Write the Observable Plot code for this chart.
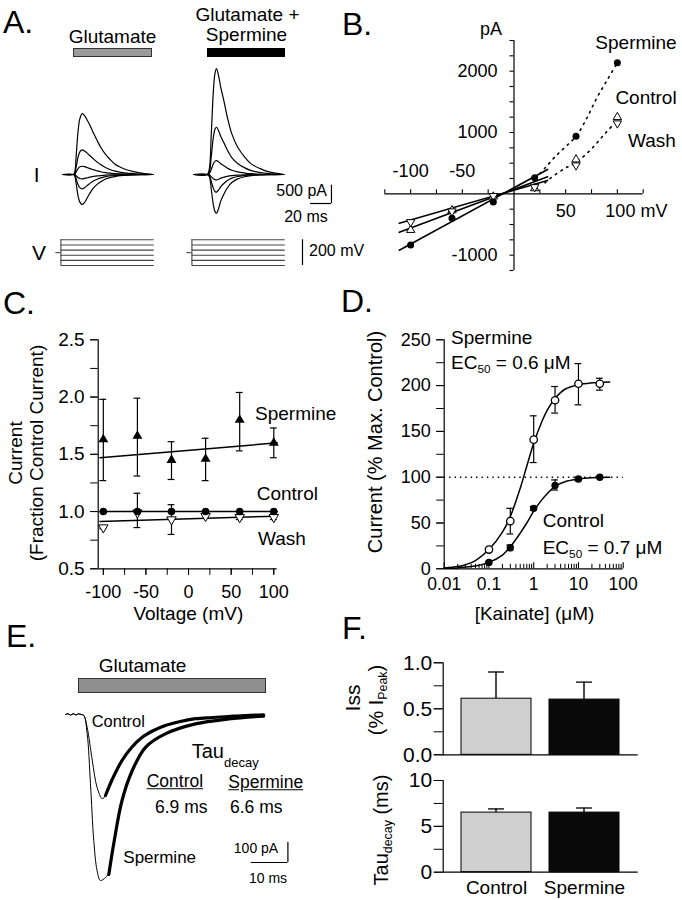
<!DOCTYPE html>
<html><head><meta charset="utf-8">
<script src="https://cdn.jsdelivr.net/npm/d3@7"></script>
<script src="https://cdn.jsdelivr.net/npm/@observablehq/plot@0.6"></script>
<style>
body{margin:0;background:#fff;}
#fig{position:relative;width:682px;height:900px;background:#fff;overflow:hidden;font-family:"Liberation Sans",Arial,Helvetica,sans-serif;color:#000;}
.lbl{position:absolute;white-space:nowrap;line-height:1;}
.lbl sub{font-size:0.62em;vertical-align:-0.35em;line-height:0;}
.box{position:absolute;box-sizing:border-box;}
</style></head><body><div id="fig"></div>
<script>
// ================= DATA =================
// Panel A: whole-cell currents (pA) vs time (ms) at -100..+100 mV
const aVSteps = [-100, -60, -20, 20, 60, 100];
const aVHold = 0;
const aGluTime = [0,10,11.5,13,14.6,16.5,18.8,21,24,27,29.8,33,36.2,41,45.7,50,55.2,61,67.6,75,86];
const aGluP100 = [0,0,50,500,1110,1520,1660,1610,1460,1290,1110,930,750,550,400,280,200,130,80,40,0];
const aGluP60  = [0,0,20,200,450,620,670,640,570,490,420,340,270,190,130,90,60,40,25,10,0];
const aGluP20  = [0,0,7,70,150,210,225,215,185,155,125,100,75,50,35,22,15,10,5,2,0];
const aGluM20  = [0,0,-4,-35,-80,-108,-117,-108,-88,-67,-52,-39,-29,-18,-12,-8,-5,-2,-1,0,0];
const aGluM60  = [0,0,-12,-117,-261,-359,-390,-363,-293,-222,-172,-129,-98,-59,-39,-27,-16,-8,-4,-2,0];
const aGluM100 = [0,0,-25,-246,-549,-753,-819,-762,-614,-467,-360,-270,-205,-123,-82,-57,-33,-16,-8,-4,0];
const aSpmTime = [0,13,15,17,19,20.5,21.9,24,26,28.9,32,36.5,42,48.9,55,63.5,72,86];
const aSpmP100 = [0,0,140,1150,2310,2770,2890,2680,2370,2020,1590,1110,750,470,290,160,70,0];
const aSpmP60  = [0,0,65,520,1030,1240,1290,1190,1040,870,680,460,300,180,105,55,25,0];
const aSpmP20  = [0,0,19,150,300,365,380,345,295,240,180,115,70,40,22,10,5,0];
const aSpmM20  = [0,0,-7,-58,-117,-140,-146,-128,-100,-75,-52,-30,-16,-8,-4,-2,0,0];
const aSpmM60  = [0,0,-24,-193,-386,-464,-483,-420,-330,-245,-170,-100,-55,-28,-14,-6,-2,0];
const aSpmM100 = [0,0,-53,-422,-845,-1014,-1056,-920,-720,-540,-375,-220,-120,-60,-30,-12,-5,0];

// Panel B: I-V (pA vs mV)
const bVolt = [-100, -60, -20, 20, 60, 100];
const bSpermine = [-836, -397, -132, 264, 937, 2139];
const bControl = [-590, -270, -45, 90, 560, 1250];
const bWash = [-460, -285, -35, 110, 465, 1150];
const bFitVolt = [-111, 32.5];
const bFitSpermine = [-919, 398];
const bFitControl = [-628, 278];
const bFitWash = [-479, 219];
const bDotVoltSpm = [25, 30, 40, 50, 60, 70, 80, 90, 100];
const bDotSpermine = [330, 420, 610, 770, 937, 1220, 1560, 1850, 2139];
const bDotVoltCtl = [30, 34, 48, 60, 75, 88, 100];
const bDotControl = [180, 238, 403, 512, 733, 981, 1200];
const bXTicks = [-125, -100, -75, -50, -25, 25, 50, 75, 100, 125];
const bYTicks = [-1250, -1000, -750, -500, -250, 250, 500, 750, 1000, 1250, 1500, 1750, 2000, 2250, 2500];
const bXLabelsAbove = [-100, -50];
const bYLabels = [2000, 1000, -1000];

// Panel C: fraction of control current vs voltage
const cVolt = [-100, -60, -20, 20, 60, 100];
const cSpermine   = [1.63, 1.66, 1.45, 1.46, 1.80, 1.60];
const cSpermineHi = [1.98, 1.99, 1.61, 1.64, 2.04, 1.73];
const cSpermineLo = [1.27, 1.31, 1.28, 1.27, 1.53, 1.47];
const cControl = [1.0, 1.0, 1.0, 1.0, 1.0, 1.0];
const cWash   = [0.86, 0.99, 0.93, 0.96, 0.95, 0.95];
const cWashHi = [0.87, 1.16, 1.06, 0.98, 0.97, 0.97];
const cWashLo = [0.85, 0.86, 0.80, 0.94, 0.93, 0.93];
const cFitVolt = [-104, 104];
const cFitSpermine = [1.47, 1.60];
const cFitControl = [1.0, 1.0];
const cFitWash = [0.913, 0.96];
const cYTicks = [0.5, 0.75, 1.0, 1.25, 1.5, 1.75, 2.0, 2.25, 2.5];
const cYLabels = [0.5, 1.0, 1.5, 2.0, 2.5];
const cXTicks = [-100, -75, -50, -25, 0, 25, 50, 75, 100];
const cXLabels = [-100, -50, 0, 50, 100];

// Panel D: kainate dose-response
const dConc = [0.1, 0.3, 1, 3, 10, 30];
const dSpermine   = [21, 52, 141, 184, 202, 202];
const dSpermineHi = [23, 66, 167, 199, 224, 208];
const dSpermineLo = [19, 38, 116, 170, 179, 195];
const dControl   = [7, 23, 66, 91, 98, 100];
const dControlHi = [8, 26, 68, 97, 100, 101];
const dControlLo = [6, 20, 64, 86, 96, 99];
const dFitConc = [0.01, 0.02, 0.03, 0.05, 0.1, 0.2, 0.3, 0.5, 0.7, 1, 1.5, 2, 3, 5, 10, 20, 50];
const dFitSpermine = [1, 2.5, 4.5, 9, 21, 40, 57, 88, 112, 137, 160, 173, 186, 196, 201, 203, 204];
const dFitControl = [0.5, 1, 2, 3, 7, 15, 24, 39, 50, 63, 75, 82, 90, 95, 98, 99.5, 100];
const dRef = 100;
const dYTicks = [0, 25, 50, 75, 100, 125, 150, 175, 200, 225, 250];
const dYLabels = [0, 50, 100, 150, 200, 250];
const dXMajor = [0.01, 0.1, 1, 10, 100];
const dXMinor = [0.02,0.03,0.04,0.05,0.06,0.07,0.08,0.09,0.2,0.3,0.4,0.5,0.6,0.7,0.8,0.9,2,3,4,5,6,7,8,9,20,30,40,50,60,70,80,90];

// Panel E: example currents (pA vs ms)
const eRawTime = [0,0.7,1.4,2.1,2.8,3.5,4.3,5,5.9,7.3,8.6,10,10.9,12,13.5,15.4,18,20.9,24,27.2,31,35.4,40,44.4,49,54];
const eRawControl = [0,4,-3,4,-2,3,0,-5,-64,-230,-364,-421,-405,-350,-290,-230,-160,-114,-80,-55,-36,-21,-15,-10,-5,-2];
const eRawTimeSpm = [0,0.7,1.4,2.1,2.8,3.5,4.3,5,5.9,6.8,7.7,8.6,9.5,10.9,11.8,13.2,15.4,18.2,21.8,27.2,35.4,44.5,54];
const eRawSpermine = [0,4,-3,4,-2,3,0,-5,-95,-345,-630,-780,-830,-815,-790,-640,-430,-280,-164,-97,-47,-22,-8];
const eFitTimeCtl = [10.9,12,13.5,15.4,18,20.9,24,27.2,31,35.4,40,44.4,49,54];
const eFitControl = [-405,-355,-295,-230,-165,-114,-80,-55,-36,-21,-15,-10,-5,-2];
const eFitTimeSpm = [11.8,13.2,15.4,18.2,21.8,27.2,35.4,44.5,54];
const eFitSpermine = [-800,-640,-430,-280,-164,-97,-47,-22,-8];

// Panel F: bar summaries
const fGroups = ["Control", "Spermine"];
const fIss = [0.61, 0.60];
const fIssHi = [0.90, 0.79];
const fTau = [6.5, 6.5];
const fTauHi = [6.9, 7.0];
const fIssTicks = [0, 0.25, 0.5, 0.75, 1.0];
const fIssLabels = [0, 0.5, 1.0];
const fTauTicks = [0, 2.5, 5, 7.5, 10];
const fTauLabels = [0, 5, 10];

// ================= LAYOUT HELPERS =================
const fig = document.getElementById("fig");
const FONT = '"Liberation Sans", Arial, Helvetica, sans-serif';
const baseStyle = {background: "transparent", overflow: "visible", fontFamily: FONT, color: "#000"};
function place(el, left, top) {
  el.style.position = "absolute"; el.style.left = left + "px"; el.style.top = top + "px";
  fig.appendChild(el);
}
function txt(html, x, y, size, anchor = "middle", extra = {}) {
  const d = document.createElement("div");
  d.className = "lbl"; d.innerHTML = html;
  d.style.fontSize = size + "px"; d.style.left = x + "px"; d.style.top = y + "px";
  const tx = anchor === "start" ? "0" : anchor === "end" ? "-100%" : "-50%";
  d.style.transform = `translate(${tx},-50%)`;
  Object.assign(d.style, extra);
  fig.appendChild(d); return d;
}
function rot(html, x, y, size) {
  const d = txt(html, x, y, size);
  d.style.transform = "translate(-50%,-50%) rotate(-90deg)";
  return d;
}
function box(left, top, w, h, fill, border) {
  const d = document.createElement("div");
  d.className = "box";
  Object.assign(d.style, {left: left + "px", top: top + "px", width: w + "px", height: h + "px", background: fill, border: border});
  fig.appendChild(d);
}
function zipLine(xs, ys, k) { return xs.map((x, i) => ({x, y: ys[i], k})); }

// ================= PANEL A =================
const aPxPerMs = 1.05, aPxPerPA = 1 / 27.3, aPxPerMV = 5.15 / 40;
function sweepI(times, traces, widthPx, extras = []) {
  const rows = traces.flatMap((tr, k) => zipLine(times, tr, k));
  return Plot.plot({
    width: widthPx, height: 160, margin: 0,
    x: {domain: [0, widthPx / aPxPerMs], axis: null},
    y: {domain: [-42 / aPxPerPA, 118 / aPxPerPA], axis: null},
    style: baseStyle,
    marks: [Plot.line(rows, {x: "x", y: "y", z: "k", stroke: "#000", strokeWidth: 1.2, curve: "catmull-rom"}), ...extras]
  });
}
place(sweepI(aGluTime, [aGluP100, aGluP60, aGluP20, aGluM20, aGluM60, aGluM100], 92), 62, 56);
const aBarT = 131.4, aBarI = -792;
place(sweepI(aSpmTime, [aSpmP100, aSpmP60, aSpmP20, aSpmM20, aSpmM60, aSpmM100], 150, [
  Plot.ruleX([aBarT], {y1: aBarI, y2: aBarI + 500, stroke: "#000", strokeWidth: 1.2}),
  Plot.ruleY([aBarI], {x1: aBarT - 20, x2: aBarT, stroke: "#000", strokeWidth: 1.2})
]), 193, 56);

const aVStart = -1.5, aVEnd = 86.5, aVHoldStart = -6.3;
function sweepV(widthPx, extras = []) {
  const rows = aVSteps.flatMap(v => [{t: aVStart, v, k: v}, {t: aVEnd, v, k: v}]);
  return Plot.plot({
    width: widthPx, height: 45, margin: 0,
    x: {domain: [-7 / aPxPerMs, (widthPx - 7) / aPxPerMs], axis: null},
    y: {domain: [-(275 - 252.15) / aPxPerMV, (252.15 - 230) / aPxPerMV], axis: null},
    style: baseStyle,
    marks: [
      Plot.line(rows, {x: "t", y: "v", z: "k", stroke: "#444", strokeWidth: 1.1}),
      Plot.ruleX([aVStart], {y1: d3.min(aVSteps), y2: d3.max(aVSteps), stroke: "#444", strokeWidth: 1.1}),
      Plot.ruleY([aVHold], {x1: aVHoldStart, x2: aVStart, stroke: "#444", strokeWidth: 1.1}),
      ...extras
    ]
  });
}
place(sweepV(100), 55, 230);
place(sweepV(125, [Plot.ruleX([103.8], {y1: -100, y2: 100, stroke: "#000", strokeWidth: 1.2})]), 186, 230);

box(72.7, 48.3, 79.6, 9.2, "#9c9c9c", "1px solid #333");
box(206.7, 47.7, 78.3, 9.8, "#000", "none");
txt("Glutamate", 112.5, 36, 19);
txt("Glutamate +", 247.5, 13.5, 19);
txt("Spermine", 246.5, 34, 19);
txt("I", 36.7, 174, 21);
txt("V", 39, 252, 21);
txt("500 pA", 327, 191, 16, "end");
txt("20 ms", 306, 217, 16);
txt("200 mV", 309, 251, 16, "start");

// ================= PANEL B =================
const bRows = bVolt.map((v, i) => ({v, sp: bSpermine[i], ctl: bControl[i], wa: bWash[i]}));
place(Plot.plot({
  width: 341, height: 300, marginLeft: 43.3, marginRight: 39.3, marginTop: 40, marginBottom: 30,
  x: {domain: [-125, 125], axis: null}, y: {domain: [-1250, 2500], axis: null},
  style: baseStyle,
  marks: [
    Plot.ruleY([0], {strokeWidth: 1.2}),
    Plot.ruleX([0], {strokeWidth: 1.2}),
    Plot.ruleX(bXTicks, {x: d => d, y1: 0, y2: 0, insetTop: -4, strokeWidth: 1.1}),
    Plot.ruleY(bYTicks, {y: d => d, x1: 0, x2: 0, insetLeft: -4, strokeWidth: 1.1}),
    Plot.text(bXLabelsAbove, {x: d => d, y: 0, dy: -22.7, text: d => String(d), fontSize: 18}),
    Plot.text([50], {x: d => d, y: 0, dy: 17.3, text: d => String(d), fontSize: 18}),
    Plot.text([100], {x: d => d, y: 0, dy: 17.3, dx: -12, textAnchor: "start", text: d => d + " mV", fontSize: 18}),
    Plot.text(bYLabels, {x: 0, y: d => d, dx: -16.5, textAnchor: "end", text: d => String(d), fontSize: 18}),
    Plot.line(zipLine(bFitVolt, bFitSpermine), {x: "x", y: "y", strokeWidth: 1.6}),
    Plot.line(zipLine(bFitVolt, bFitControl), {x: "x", y: "y", strokeWidth: 1.6}),
    Plot.line(zipLine(bFitVolt, bFitWash), {x: "x", y: "y", strokeWidth: 1.6}),
    Plot.line(zipLine(bDotVoltSpm, bDotSpermine), {x: "x", y: "y", strokeWidth: 1.6, strokeDasharray: "1.6,5", curve: "catmull-rom"}),
    Plot.line(zipLine(bDotVoltCtl, bDotControl), {x: "x", y: "y", strokeWidth: 1.6, strokeDasharray: "1.6,5", curve: "catmull-rom"}),
    Plot.dot(bRows, {x: "v", y: "ctl", symbol: "triangle", r: 3.1, fill: "white", stroke: "#000", strokeWidth: 1}),
    Plot.dot(bRows, {x: "v", y: "wa", symbol: "triangle", rotate: 180, r: 3.1, fill: "white", stroke: "#000", strokeWidth: 1}),
    Plot.dot(bRows, {x: "v", y: "sp", r: 3.5, fill: "#000"})
  ]
}), 341, 0);
txt("pA", 491, 29, 18);
txt("Spermine", 636, 42, 19);
txt("Control", 646, 97, 19);
txt("Wash", 652, 140, 19);

// ================= PANEL C =================
const cRows = cVolt.map((v, i) => ({v, sp: cSpermine[i], spHi: cSpermineHi[i], spLo: cSpermineLo[i],
  ctl: cControl[i], wa: cWash[i], waHi: cWashHi[i], waLo: cWashLo[i]}));
function errMarks(rows, xKey, lo, hi, cap) {
  return [
    Plot.ruleX(rows, {x: xKey, y1: lo, y2: hi, strokeWidth: 1.2}),
    Plot.ruleY(rows, {y: hi, x1: xKey, x2: xKey, insetLeft: -cap, insetRight: -cap, strokeWidth: 1.2}),
    Plot.ruleY(rows, {y: lo, x1: xKey, x2: xKey, insetLeft: -cap, insetRight: -cap, strokeWidth: 1.2})
  ];
}
place(Plot.plot({
  width: 341, height: 330, marginLeft: 97.7, marginRight: 64.3, marginTop: 39.3, marginBottom: 61.7,
  x: {domain: [-106, 104], label: null}, y: {domain: [0.5, 2.5], label: null},
  style: baseStyle,
  marks: [
    Plot.ruleX([-106], {strokeWidth: 1.2}),
    Plot.ruleY([0.5], {strokeWidth: 1.2}),
    Plot.axisY(cYTicks, {tickSize: 7.5, fill: "none", label: null}),
    Plot.axisY(cYLabels, {tickSize: 7.5, tickPadding: 6, tickFormat: d => d.toFixed(1), fontSize: 19, label: null}),
    Plot.axisX(cXTicks, {tickSize: 6.5, fill: "none", label: null}),
    Plot.axisX(cXLabels, {tickSize: 6.5, tickPadding: 10, tickFormat: d => String(d), fontSize: 18, label: null}),
    ...errMarks(cRows, "v", "spLo", "spHi", 3.4),
    ...errMarks(cRows, "v", "waLo", "waHi", 3.4),
    Plot.line(zipLine(cFitVolt, cFitSpermine), {x: "x", y: "y", strokeWidth: 1.5}),
    Plot.line(zipLine(cFitVolt, cFitControl), {x: "x", y: "y", strokeWidth: 1.5}),
    Plot.line(zipLine(cFitVolt, cFitWash), {x: "x", y: "y", strokeWidth: 1.5}),
    Plot.dot(cRows, {x: "v", y: "wa", symbol: "triangle", rotate: 180, r: 3.5, fill: "white", stroke: "#000", strokeWidth: 1}),
    Plot.dot(cRows, {x: "v", y: "ctl", r: 3.8, fill: "#000"}),
    Plot.dot(cRows, {x: "v", y: "sp", symbol: "triangle", r: 3.7, fill: "#000"})
  ]
}), 0, 300);
rot("Current", 14.5, 453, 19);
rot("(Fraction Control Current)", 35.5, 453, 19);
txt("Voltage (mV)", 188.3, 613, 19);
txt("Spermine", 255, 413, 19, "start");
txt("Control", 256.7, 493, 19, "start");
txt("Wash", 258, 538, 19, "start");

// ================= PANEL D =================
const dRows = dConc.map((c, i) => ({c, sp: dSpermine[i], spHi: dSpermineHi[i], spLo: dSpermineLo[i],
  ctl: dControl[i], ctlHi: dControlHi[i], ctlLo: dControlLo[i]}));
place(Plot.plot({
  width: 341, height: 330, marginLeft: 102.7, marginRight: 59.3, marginTop: 39.3, marginBottom: 61.7,
  x: {type: "log", domain: [0.01, 100], axis: null, label: null}, y: {domain: [0, 250], label: null},
  style: baseStyle,
  marks: [
    Plot.ruleX([0.01], {strokeWidth: 1.2}),
    Plot.ruleY([0], {strokeWidth: 1.2}),
    Plot.axisY(dYTicks, {tickSize: 7.5, fill: "none", label: null}),
    Plot.axisY(dYLabels, {tickSize: 7.5, tickPadding: 6, tickFormat: d => String(d), fontSize: 18, label: null}),
    Plot.ruleX(dXMinor, {x: d => d, y1: 0, y2: 0, insetTop: -4.5, strokeWidth: 1}),
    Plot.ruleX(dXMajor, {x: d => d, y1: 0, y2: 0, insetTop: -6, strokeWidth: 1.1}),
    Plot.text(dXMajor, {x: d => d, y: 0, dy: 16, text: d => String(d), fontSize: 17.5}),
    Plot.ruleY([dRef], {x1: 0.01, x2: 100, strokeWidth: 1.4, strokeDasharray: "1.4,4"}),
    Plot.line(zipLine(dFitConc, dFitSpermine), {x: "x", y: "y", strokeWidth: 1.5, curve: "catmull-rom"}),
    Plot.line(zipLine(dFitConc, dFitControl), {x: "x", y: "y", strokeWidth: 1.5, curve: "catmull-rom"}),
    ...errMarks(dRows, "c", "spLo", "spHi", 3.4),
    ...errMarks(dRows, "c", "ctlLo", "ctlHi", 3.4),
    Plot.dot(dRows, {x: "c", y: "sp", r: 3.7, fill: "white", stroke: "#000", strokeWidth: 1.3}),
    Plot.dot(dRows, {x: "c", y: "ctl", r: 3.7, fill: "#000"})
  ]
}), 341, 300);
rot("Current (% Max. Control)", 375, 442, 20);
txt("[Kainate] (&mu;M)", 534.5, 613, 19);
txt("Spermine", 451, 337, 19, "start");
txt("EC<sub>50</sub> = 0.6 &mu;M", 451, 362, 19, "start");
txt("Control", 542.7, 520, 19, "start");
txt("EC<sub>50</sub> = 0.7 &mu;M", 542.7, 547, 19, "start");

// ================= PANEL E =================
const ePxPerMs = 3.67, ePxPerPA = 0.2;
const eBarT = 60.6, eBarI = -740;
place(Plot.plot({
  width: 250, height: 240, margin: 0,
  x: {domain: [-10 / ePxPerMs, 240 / ePxPerMs], axis: null},
  y: {domain: [-186 / ePxPerPA, 54 / ePxPerPA], axis: null},
  style: baseStyle,
  marks: [
    Plot.line(zipLine(eRawTimeSpm, eRawSpermine), {x: "x", y: "y", strokeWidth: 1, curve: "catmull-rom"}),
    Plot.line(zipLine(eRawTime, eRawControl), {x: "x", y: "y", strokeWidth: 1, curve: "catmull-rom"}),
    Plot.line(zipLine(eFitTimeCtl, eFitControl), {x: "x", y: "y", strokeWidth: 3.2, curve: "catmull-rom"}),
    Plot.line(zipLine(eFitTimeSpm, eFitSpermine), {x: "x", y: "y", strokeWidth: 3.2, curve: "catmull-rom"}),
    Plot.ruleX([eBarT], {y1: eBarI, y2: eBarI + 100, strokeWidth: 1.2}),
    Plot.ruleY([eBarI], {x1: eBarT - 10, x2: eBarT, strokeWidth: 1.2})
  ]
}), 55, 660);
box(77.7, 677.7, 188, 15.6, "#8e8e8e", "1px solid #333");
txt("Glutamate", 142.5, 665, 19);
txt("Control", 91.7, 721, 16.5, "start");
txt("Tau<span style=\"font-size:13px;position:relative;top:9px;\">decay</span>", 191.7, 751, 20, "start");
txt("Control", 146.7, 782, 17.5, "start", {textDecoration: "underline"});
txt("Spermine", 228.3, 783, 17.5, "start", {textDecoration: "underline"});
txt("6.9 ms", 155, 808, 17.5, "start");
txt("6.6 ms", 230, 807.5, 17.5, "start");
txt("Spermine", 123.3, 857, 17, "start");
txt("100 pA", 256, 848, 14);
txt("10 ms", 268, 878, 14);

// ================= PANEL F =================
const fRows = fGroups.map((g, i) => ({g, iss: fIss[i], issHi: fIssHi[i], tau: fTau[i], tauHi: fTauHi[i]}));
function barPanel(yKey, hiKey, domain, ticks, labels, fmt, h, mt, mb, withX) {
  return Plot.plot({
    width: 341, height: h, marginLeft: 101.7, marginRight: 44.3, marginTop: mt, marginBottom: mb,
    x: {type: "band", domain: fGroups, padding: 0.207, axis: null, label: null},
    y: {domain, label: null},
    color: {type: "ordinal", domain: fGroups, range: ["#cfcfcf", "#0a0a0a"]},
    style: baseStyle,
    marks: [
      Plot.barY(fRows, {x: "g", y1: yKey, y2: hiKey, fill: "#000", insetLeft: 34.3, insetRight: 34.3}),
      Plot.tickY(fRows, {x: "g", y: hiKey, insetLeft: 27, insetRight: 27, strokeWidth: 1.3}),
      Plot.barY(fRows, {x: "g", y: yKey, fill: "g", stroke: "#000", strokeWidth: 1}),
      Plot.frame({anchor: "left", strokeWidth: 1.2}),
      Plot.ruleY([0], {strokeWidth: 1.2}),
      Plot.axisY(ticks, {tickSize: 9, fill: "none", label: null}),
      Plot.axisY(labels, {tickSize: 9, tickPadding: 2, tickFormat: fmt, fontSize: 21, label: null}),
      ...(withX ? [Plot.axisX({tickSize: 0, tickPadding: 8, fontSize: 19, label: null})] : [])
    ]
  });
}
place(barPanel("iss", "issHi", [0, 1], fIssTicks, fIssLabels, d => d.toFixed(1), 130, 22.3, 15.7, false), 341, 640);
place(barPanel("tau", "tauHi", [0, 10], fTauTicks, fTauLabels, d => String(d), 140, 20, 28.3, true), 341, 760);
rot("Iss", 352, 698, 21);
rot("(% I<sub>Peak</sub>)", 376, 700, 20);
rot("Tau<sub>decay</sub> (ms)", 381, 830, 20);

// ================= PANEL LETTERS =================
txt("A.", 3, 22, 32, "start");
txt("B.", 342, 24, 32, "start");
txt("C.", 3, 303, 32, "start");
txt("D.", 341, 301, 32, "start");
txt("E.", 6, 636, 32, "start");
txt("F.", 342, 628, 32, "start");
</script></body></html>
